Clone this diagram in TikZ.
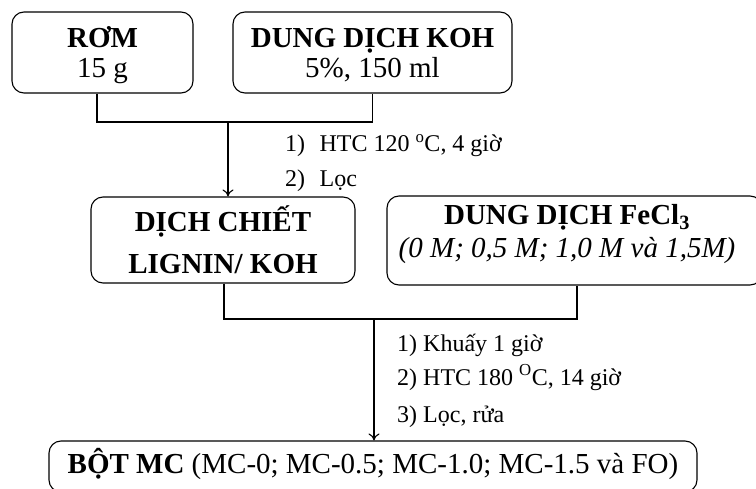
\documentclass[tikz,border=0pt]{standalone}
\usepackage{fontspec}
\setmainfont{Liberation Serif}
\usetikzlibrary{arrows.meta}
\begin{document}
\begin{tikzpicture}[x=1pt,y=-1pt,
  box/.style={draw, rounded corners=12pt, line width=1.1pt, inner sep=0pt, align=center},
  lab/.style={anchor=base west, inner sep=0pt, font=\fontsize{24}{26}\selectfont},
  conn/.style={line width=1.1pt},
  arr/.style={conn, -{To[length=7pt,width=11pt,line width=1.1pt]}}]
\useasboundingbox (0,0) rectangle (756,489);
% boxes
\node[box, minimum width=181pt, minimum height=81pt] (rom) at (102.5,52.5) {};
\node[inner sep=0pt, align=center, font=\fontsize{29}{30.5}\selectfont] (romtxt) at (102.5,55) {\textbf{RƠM}\\15 g};
\node[box, minimum width=279pt, minimum height=81pt] (koh) at (372.5,52.5) {};
\node[inner sep=0pt, align=center, font=\fontsize{29}{30.5}\selectfont] (kohtxt) at (372.5,55) {\textbf{DUNG DỊCH KOH}\\5\%, 150 ml};
\node[box, minimum width=264pt, minimum height=86pt, font=\fontsize{29}{42}\selectfont\bfseries] (dich) at (223,240) {DỊCH CHIẾT\\LIGNIN/ KOH};
\node[box, minimum width=375pt, minimum height=89pt] (fecl) at (574.5,240.5) {};
\node[inner sep=0pt, align=center, font=\fontsize{29}{33}\selectfont] (fecltxt) at (567,234) {\textbf{DUNG DỊCH FeCl\textsubscript{3}}\\\textit{(0 M; 0,5 M; 1,0 M và 1,5M)}};
\node[box, minimum width=648pt, minimum height=51pt] (bot) at (373,466.5) {};
\node[inner sep=0pt, font=\fontsize{29}{32}\selectfont] (bottxt) at (373,464) {\textbf{BỘT MC} (MC-0; MC-0.5; MC-1.0; MC-1.5 và FO)};
% connectors
\coordinate (j1) at (228,122);
\coordinate (j2) at (374,319);
\draw[conn] ([xshift=-5.5pt]rom.south) |- (j1) -| (koh.south);
\draw[arr] (j1) -- (j1 |- dich.north);
\draw[conn] ([xshift=1pt]dich.south) |- (j2) -| ([xshift=2.5pt]fecl.south);
\draw[arr] (j2) -- (j2 |- bot.north);
% labels
\node[lab] (l1) at (285,152) {1)\hspace{0.6em}HTC 120 \textsuperscript{o}C, 4 giờ};
\node[lab] (l2) at (285,187) {2)\hspace{0.6em}Lọc};
\node[lab] (m1) at (397,352) {1) Khuấy 1 giờ};
\node[lab] (m2) at (397,385) {2) HTC 180 \textsuperscript{O}C, 14 giờ};
\node[lab] (m3) at (397,423) {3) Lọc, rửa};
\end{tikzpicture}
\end{document}
